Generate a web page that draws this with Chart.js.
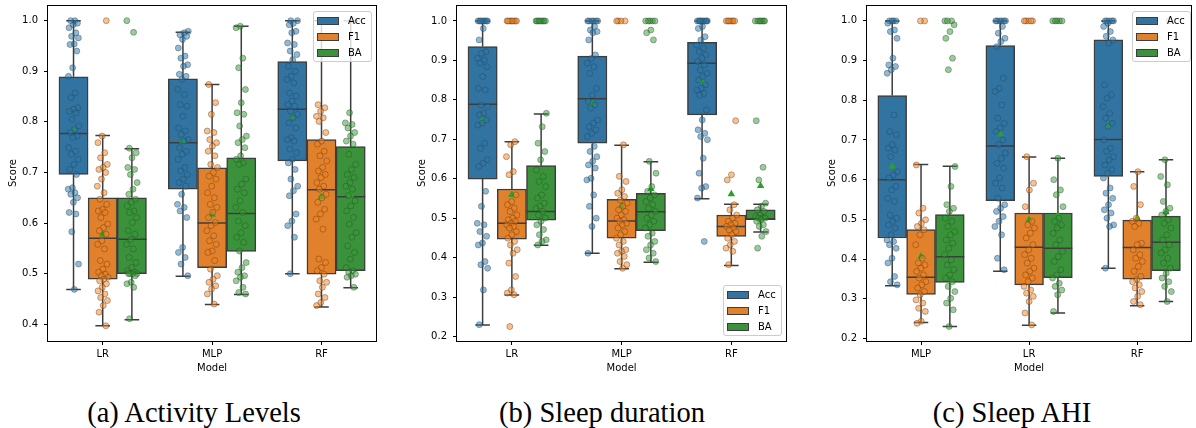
<!DOCTYPE html>
<html>
<head>
<meta charset="utf-8">
<script src="https://cdn.jsdelivr.net/npm/chart.js@4.4.1/dist/chart.umd.min.js"></script>
<style>
html,body{margin:0;padding:0;background:#fff;}
body{width:1196px;height:428px;overflow:hidden;position:relative;font-family:'DejaVu Sans',sans-serif;}
canvas{position:absolute;top:0;}
.legend{position:absolute;width:59px;height:51px;box-sizing:border-box;border:1px solid #cccccc;border-radius:3px;background:rgba(255,255,255,0.8);}
.legend .patch{position:absolute;left:3px;width:22px;height:8px;box-sizing:border-box;border:1px solid #3d3d3d;}
.legend .lab{position:absolute;left:34px;font-size:10px;line-height:12px;color:#000;white-space:nowrap;}
.caption{position:absolute;width:400px;text-align:center;font-family:'Liberation Serif',serif;font-size:28.5px;line-height:34px;top:396px;color:#000;white-space:nowrap;}
</style>
</head>
<body>
<canvas id="ca"></canvas>
<canvas id="cb"></canvas>
<canvas id="cc"></canvas>
<script>
// ---------- categories / labels ----------
const metrics = ['Acc', 'F1', 'BA'];
const catsA = ['LR', 'MLP', 'RF'];
const catsB = ['LR', 'MLP', 'RF'];
const catsC = ['MLP', 'LR', 'RF'];
const ticksA = [0.4, 0.5, 0.6, 0.7, 0.8, 0.9, 1.0];
const ticksB = [0.2, 0.3, 0.4, 0.5, 0.6, 0.7, 0.8, 0.9, 1.0];
const ticksC = [0.2, 0.3, 0.4, 0.5, 0.6, 0.7, 0.8, 0.9, 1.0];
const captions = ['(a) Activity Levels', '(b) Sleep duration', '(c) Sleep AHI'];

// ---------- box statistics: [whiskerLow, q1, median, q3, whiskerHigh, mean] per category ----------
const aAccBox = [[0.469, 0.696, 0.777, 0.889, 1.0, 0.785], [0.495, 0.667, 0.759, 0.885, 0.977, 0.762], [0.500, 0.723, 0.825, 0.919, 1.0, 0.810]];
const aF1Box  = [[0.397, 0.489, 0.570, 0.650, 0.773, 0.578], [0.439, 0.512, 0.600, 0.709, 0.874, 0.617], [0.434, 0.499, 0.666, 0.765, 1.0, 0.652]];
const aBABox  = [[0.409, 0.500, 0.568, 0.650, 0.747, 0.585], [0.459, 0.544, 0.619, 0.729, 0.989, 0.645], [0.472, 0.506, 0.652, 0.751, 1.0, 0.655]];

const bAccBox = [[0.229, 0.599, 0.789, 0.935, 1.0, 0.749], [0.411, 0.690, 0.803, 0.911, 1.0, 0.789], [0.549, 0.762, 0.893, 0.946, 1.0, 0.846]];
const bF1Box  = [[0.305, 0.447, 0.487, 0.574, 0.694, 0.559], [0.372, 0.449, 0.493, 0.548, 0.685, 0.530], [0.380, 0.454, 0.479, 0.508, 0.535, 0.561]];
const bBABox  = [[0.431, 0.495, 0.517, 0.633, 0.764, 0.600], [0.388, 0.468, 0.516, 0.563, 0.643, 0.574], [0.465, 0.496, 0.498, 0.521, 0.535, 0.582]];

const cAccBox = [[0.333, 0.453, 0.600, 0.812, 1.0, 0.633], [0.369, 0.547, 0.685, 0.938, 1.0, 0.715], [0.377, 0.608, 0.701, 0.952, 1.0, 0.735]];
const cF1Box  = [[0.240, 0.311, 0.354, 0.474, 0.638, 0.406], [0.233, 0.335, 0.430, 0.516, 0.657, 0.499], [0.282, 0.349, 0.429, 0.498, 0.620, 0.503]];
const cBABox  = [[0.230, 0.341, 0.406, 0.512, 0.634, 0.470], [0.264, 0.353, 0.427, 0.516, 0.654, 0.511], [0.293, 0.371, 0.442, 0.508, 0.650, 0.518]];

// ---------- individual scores (strip points) ----------
const aLRAcc = [1.0,1.0,0.995,0.992,0.986,0.976,0.969,0.966,0.954,0.953,0.940,0.907,0.890,0.857,0.848,0.828,0.825,0.821,0.818,0.805,0.792,0.785,0.779,0.772,0.769,0.749,0.742,0.736,0.726,0.716,0.706,0.696,0.670,0.667,0.660,0.657,0.650,0.641,0.621,0.618,0.583,0.519,0.469];
const aLRF1  = [1.0,0.772,0.759,0.739,0.729,0.716,0.710,0.706,0.700,0.687,0.673,0.660,0.647,0.637,0.627,0.624,0.621,0.611,0.598,0.591,0.585,0.578,0.565,0.558,0.549,0.526,0.519,0.509,0.503,0.499,0.496,0.493,0.489,0.486,0.480,0.473,0.466,0.460,0.453,0.447,0.437,0.424,0.397];
const aLRBA  = [1.0,0.977,0.748,0.739,0.729,0.710,0.706,0.696,0.680,0.667,0.657,0.647,0.641,0.634,0.624,0.621,0.611,0.601,0.585,0.578,0.568,0.558,0.549,0.532,0.522,0.512,0.506,0.503,0.500,0.500,0.500,0.500,0.496,0.483,0.480,0.473,0.411];
const aMLPAcc = [0.979,0.976,0.972,0.969,0.963,0.946,0.930,0.926,0.913,0.910,0.894,0.890,0.884,0.864,0.854,0.834,0.831,0.811,0.788,0.782,0.775,0.765,0.762,0.749,0.742,0.736,0.726,0.710,0.703,0.696,0.687,0.680,0.673,0.657,0.637,0.631,0.624,0.611,0.552,0.542,0.532,0.519,0.496];
const aMLPF1  = [0.874,0.838,0.815,0.782,0.779,0.765,0.759,0.752,0.742,0.733,0.716,0.710,0.700,0.693,0.687,0.673,0.660,0.650,0.637,0.631,0.621,0.611,0.601,0.595,0.585,0.575,0.565,0.558,0.545,0.542,0.526,0.509,0.496,0.489,0.483,0.476,0.470,0.460,0.440];
const aMLPBA  = [0.989,0.986,0.926,0.907,0.864,0.838,0.818,0.815,0.792,0.772,0.765,0.759,0.749,0.733,0.726,0.719,0.716,0.687,0.677,0.667,0.660,0.644,0.631,0.621,0.604,0.595,0.581,0.572,0.562,0.545,0.522,0.512,0.503,0.496,0.493,0.486,0.473,0.463,0.460];
const aRFAcc = [1.0,1.0,0.995,0.992,0.979,0.976,0.956,0.953,0.940,0.933,0.923,0.910,0.900,0.890,0.884,0.877,0.857,0.851,0.841,0.834,0.831,0.821,0.815,0.808,0.798,0.788,0.769,0.765,0.762,0.746,0.739,0.726,0.719,0.706,0.687,0.673,0.664,0.654,0.618,0.604,0.595,0.572,0.500];
const aRFF1  = [1.0,0.834,0.828,0.821,0.811,0.808,0.801,0.779,0.762,0.756,0.742,0.733,0.723,0.710,0.703,0.696,0.690,0.680,0.673,0.667,0.657,0.650,0.641,0.627,0.618,0.608,0.588,0.529,0.522,0.512,0.506,0.499,0.486,0.483,0.473,0.460,0.453,0.443,0.437];
const aRFBA  = [1.0,0.818,0.798,0.795,0.788,0.779,0.772,0.762,0.756,0.736,0.716,0.706,0.696,0.690,0.680,0.673,0.667,0.654,0.644,0.634,0.624,0.611,0.598,0.581,0.572,0.555,0.542,0.529,0.512,0.506,0.503,0.499,0.496,0.493,0.473];

const bLRAcc = [1.0,1.0,1.0,1.0,1.0,1.0,1.0,1.0,0.981,0.952,0.922,0.918,0.905,0.901,0.893,0.884,0.859,0.829,0.825,0.787,0.783,0.766,0.762,0.749,0.741,0.736,0.690,0.677,0.648,0.639,0.631,0.568,0.530,0.487,0.483,0.466,0.454,0.437,0.432,0.390,0.382,0.373,0.318,0.230];
const bLRF1  = [1.0,1.0,1.0,1.0,1.0,1.0,1.0,1.0,0.694,0.686,0.656,0.618,0.610,0.559,0.542,0.534,0.525,0.517,0.508,0.500,0.496,0.492,0.487,0.483,0.479,0.475,0.466,0.458,0.449,0.441,0.432,0.420,0.411,0.386,0.352,0.318,0.310,0.306,0.225];
const bLRBA  = [1.0,1.0,1.0,1.0,1.0,1.0,1.0,1.0,0.766,0.732,0.690,0.669,0.648,0.622,0.606,0.593,0.580,0.559,0.551,0.538,0.530,0.525,0.517,0.508,0.500,0.492,0.483,0.471,0.458,0.445,0.441,0.432];
const bMLPAcc = [1.0,1.0,1.0,1.0,1.0,1.0,0.986,0.977,0.973,0.970,0.952,0.914,0.905,0.893,0.884,0.867,0.829,0.812,0.796,0.787,0.779,0.749,0.741,0.732,0.724,0.715,0.707,0.682,0.669,0.656,0.644,0.635,0.627,0.601,0.597,0.559,0.530,0.500,0.479,0.411];
const bMLPF1  = [1.0,1.0,1.0,1.0,0.686,0.606,0.593,0.572,0.563,0.555,0.546,0.538,0.530,0.521,0.517,0.508,0.500,0.496,0.492,0.487,0.483,0.475,0.466,0.458,0.449,0.441,0.432,0.420,0.416,0.411,0.403,0.390,0.382,0.373];
const bMLPBA  = [1.0,1.0,1.0,1.0,1.0,0.977,0.970,0.952,0.644,0.614,0.580,0.568,0.559,0.551,0.542,0.534,0.525,0.517,0.508,0.500,0.492,0.483,0.475,0.462,0.454,0.441,0.432,0.420,0.411,0.399,0.390];
const bRFAcc = [1.0,1.0,1.0,1.0,1.0,1.0,1.0,1.0,1.0,1.0,0.986,0.981,0.960,0.952,0.939,0.931,0.922,0.914,0.905,0.897,0.889,0.876,0.867,0.859,0.850,0.838,0.829,0.825,0.816,0.812,0.774,0.749,0.724,0.715,0.707,0.699,0.652,0.614,0.580,0.576,0.551,0.441];
const bRFF1  = [1.0,1.0,1.0,1.0,1.0,1.0,1.0,0.747,0.610,0.597,0.534,0.521,0.508,0.500,0.492,0.487,0.483,0.479,0.475,0.470,0.466,0.458,0.449,0.441,0.432,0.424,0.416,0.382];
const bRFBA  = [1.0,1.0,1.0,1.0,1.0,1.0,1.0,0.747,0.629,0.597,0.538,0.530,0.521,0.517,0.508,0.504,0.500,0.500,0.500,0.496,0.492,0.483,0.479,0.466,0.454,0.424];

const cMLPAcc = [1.0,1.0,1.0,1.0,0.994,0.977,0.973,0.956,0.906,0.889,0.885,0.877,0.868,0.763,0.721,0.713,0.688,0.679,0.675,0.658,0.620,0.612,0.604,0.583,0.574,0.553,0.545,0.511,0.503,0.495,0.486,0.478,0.461,0.448,0.444,0.436,0.427,0.402,0.390,0.356,0.343,0.335];
const cMLPF1  = [1.0,1.0,0.637,0.528,0.516,0.499,0.490,0.482,0.474,0.461,0.436,0.402,0.390,0.385,0.377,0.369,0.360,0.352,0.343,0.335,0.327,0.318,0.310,0.297,0.289,0.276,0.268,0.243,0.238];
const cMLPBA  = [1.0,1.0,1.0,0.990,0.973,0.956,0.906,0.877,0.633,0.583,0.537,0.528,0.520,0.503,0.495,0.482,0.469,0.461,0.448,0.440,0.427,0.411,0.398,0.385,0.373,0.360,0.352,0.343,0.331,0.318,0.301,0.289,0.272,0.230];
const cLRAcc = [1.0,1.0,1.0,1.0,1.0,1.0,0.986,0.969,0.956,0.948,0.935,0.856,0.830,0.822,0.788,0.755,0.742,0.730,0.721,0.700,0.688,0.667,0.654,0.641,0.629,0.604,0.591,0.579,0.553,0.537,0.528,0.520,0.507,0.495,0.482,0.461,0.402,0.373];
const cLRF1  = [1.0,1.0,1.0,1.0,1.0,0.658,0.591,0.574,0.532,0.495,0.486,0.478,0.465,0.453,0.436,0.423,0.411,0.402,0.390,0.377,0.369,0.360,0.352,0.343,0.331,0.322,0.314,0.306,0.293,0.264,0.234];
const cLRBA  = [1.0,1.0,1.0,1.0,1.0,0.654,0.600,0.574,0.562,0.532,0.503,0.495,0.486,0.478,0.465,0.448,0.436,0.419,0.406,0.394,0.373,0.360,0.352,0.339,0.331,0.322,0.310,0.268];
const cRFAcc = [1.0,1.0,1.0,1.0,1.0,0.994,0.986,0.973,0.961,0.952,0.944,0.839,0.814,0.805,0.784,0.767,0.755,0.742,0.734,0.700,0.679,0.671,0.658,0.650,0.637,0.625,0.616,0.604,0.579,0.566,0.553,0.537,0.524,0.516,0.503,0.486,0.482,0.377];
const cRFF1  = [0.620,0.583,0.537,0.503,0.495,0.490,0.482,0.440,0.436,0.423,0.411,0.402,0.394,0.381,0.369,0.356,0.348,0.343,0.335,0.327,0.318,0.306,0.293,0.285];
const cRFBA  = [1.0,0.650,0.608,0.587,0.545,0.528,0.520,0.511,0.499,0.490,0.478,0.461,0.448,0.436,0.423,0.415,0.402,0.390,0.377,0.364,0.352,0.343,0.331,0.318,0.293];

// ---------- styling ----------
const boxColors = ['#3274a1', '#e1812c', '#3a923a'];
const pointColors = ['rgba(31,119,180,0.5)', 'rgba(255,127,14,0.5)', 'rgba(44,160,44,0.5)'];
const EDGE = '#3d3d3d';
const HUE = 0.8 / 3;
const JIT = 0.05;

Chart.defaults.font.family = "'DejaVu Sans', sans-serif";
Chart.defaults.font.size = 10;
Chart.defaults.color = '#000';

function jitter(i, ci, m) {
  const f = ((i + 1) * 0.6180339887 + ci * 0.37 + m * 0.21) % 1;
  return (f - 0.5) * 2 * JIT;
}

function boxPlugin(boxes) {
  return {
    id: 'boxExtras',
    afterDatasetDraw(chart, args) {
      if (args.index !== 0) return;
      const ctx = chart.ctx, ys = chart.scales.y;
      const P = v => ys.getPixelForValue(v);
      ctx.save();
      ctx.strokeStyle = EDGE; ctx.lineWidth = 1.5; ctx.lineCap = 'butt';
      boxes.forEach((stats, m) => {
        const meta = chart.getDatasetMeta(m);
        stats.forEach((s, ci) => {
          const el = meta.data[ci];
          const x = el.x, w = el.width;
          ctx.beginPath();
          ctx.moveTo(x, P(s[1])); ctx.lineTo(x, P(s[0]));
          ctx.moveTo(x, P(s[3])); ctx.lineTo(x, P(s[4]));
          ctx.moveTo(x - w / 4, P(s[0])); ctx.lineTo(x + w / 4, P(s[0]));
          ctx.moveTo(x - w / 4, P(s[4])); ctx.lineTo(x + w / 4, P(s[4]));
          ctx.moveTo(x - w / 2, P(s[2])); ctx.lineTo(x + w / 2, P(s[2]));
          ctx.stroke();
        });
      });
      ctx.restore();
    },
    afterDraw(chart) {
      const ctx = chart.ctx, a = chart.chartArea;
      ctx.save();
      ctx.strokeStyle = '#000'; ctx.lineWidth = 1;
      ctx.strokeRect(Math.round(a.left) - 0.5, Math.round(a.top) + 0.5, Math.round(a.right - a.left) + 1, Math.round(a.bottom - a.top));
      ctx.restore();
    }
  };
}

function makePanel(p) {
  const cv = document.getElementById(p.id);
  const width = p.cr - p.cl + 48 + p.padR;
  cv.width = width; cv.height = 376;
  cv.style.left = (p.cl - 48) + 'px';
  cv.style.width = width + 'px'; cv.style.height = '376px';

  const datasets = [];
  metrics.forEach((name, m) => {
    datasets.push({
      type: 'bar', label: name, xAxisID: 'xl', yAxisID: 'y', order: 3,
      data: p.boxes[m].map((s, ci) => ({ x: ci + (m - 1) * HUE, y: [s[1], s[3]] })),
      backgroundColor: boxColors[m], borderColor: EDGE, borderWidth: 1.5, borderSkipped: false,
      grouped: false, categoryPercentage: 1.0, barPercentage: 1.0
    });
  });
  const means = [];
  metrics.forEach((name, m) => p.boxes[m].forEach((s, ci) => means.push({ x: ci + (m - 1) * HUE, y: s[5] })));
  datasets.push({
    type: 'scatter', label: 'mean', xAxisID: 'xl', yAxisID: 'y', order: 2, data: means,
    pointStyle: 'triangle', pointRadius: 4.3, backgroundColor: '#2ca02c', borderColor: '#2ca02c', borderWidth: 0
  });
  metrics.forEach((name, m) => {
    const pts = [];
    p.cats.forEach((c, ci) => p.points[ci][m].forEach((v, i) => pts.push({ x: ci + (m - 1) * HUE + jitter(i, ci, m), y: v })));
    datasets.push({
      type: 'scatter', label: name + ' points', xAxisID: 'xl', yAxisID: 'y', order: 1, data: pts,
      pointStyle: 'circle', pointRadius: 3, backgroundColor: pointColors[m],
      borderColor: 'rgba(60,60,60,0.5)', borderWidth: 0.8
    });
  });

  const axisFont = { family: "'DejaVu Sans', sans-serif", size: 10 };
  new Chart(cv, {
    type: 'bar',
    data: { labels: p.cats, datasets },
    plugins: [boxPlugin(p.boxes)],
    options: {
      responsive: false, animation: false, devicePixelRatio: 1, events: [],
      layout: { padding: { left: 0, right: p.padR, top: 5, bottom: 0 } },
      plugins: { legend: { display: false }, tooltip: { enabled: false } },
      scales: {
        x: {
          type: 'category', offset: true,
          grid: { display: true, offset: false, drawOnChartArea: false, drawTicks: true, tickLength: 4, color: '#000', tickColor: '#000', lineWidth: 1 },
          border: { display: false },
          ticks: { color: '#000', font: axisFont, padding: 3, maxRotation: 0, autoSkip: false },
          title: { display: true, text: 'Model', color: '#000', font: axisFont, padding: { top: 0, bottom: 1.5 } },
          afterFit: s => { s.height = 35; s.paddingLeft = 0; s.paddingRight = 0; }
        },
        xl: {
          type: 'linear', axis: 'x', position: 'bottom', display: false, offset: false,
          grid: { offset: false }, bounds: 'data', grace: 0, min: -0.5, max: 2.5
        },
        y: {
          type: 'linear', min: p.yMin, max: p.yMax,
          afterBuildTicks: s => { s.ticks = p.ticks.map(v => ({ value: v })); },
          grid: { display: true, drawOnChartArea: false, drawTicks: true, tickLength: 4, color: '#000', tickColor: '#000', lineWidth: 1 },
          border: { display: false },
          ticks: { color: '#000', font: axisFont, padding: 6, callback: v => Number(v).toFixed(1) },
          title: { display: true, text: 'Score', color: '#000', font: axisFont, padding: { top: 7, bottom: 0 } },
          afterFit: s => { s.width = 48; s.paddingTop = 0; s.paddingBottom = 0; }
        }
      }
    }
  });

  // legend (HTML, real text)
  const lg = document.createElement('div');
  lg.className = 'legend';
  lg.style.left = p.legLeft + 'px'; lg.style.top = p.legTop + 'px';
  metrics.forEach((name, m) => {
    const cy = 8.5 + m * 16;
    const patch = document.createElement('div');
    patch.className = 'patch';
    patch.style.top = (cy - 4) + 'px';
    patch.style.background = boxColors[m];
    const lab = document.createElement('div');
    lab.className = 'lab';
    lab.style.top = (cy - 6) + 'px';
    lab.textContent = name;
    lg.appendChild(patch); lg.appendChild(lab);
  });
  document.body.appendChild(lg);

  const cap = document.createElement('div');
  cap.className = 'caption';
  cap.style.left = (p.capX - 200) + 'px';
  cap.textContent = p.caption;
  document.body.appendChild(cap);
}

makePanel({
  id: 'ca', cats: catsA, ticks: ticksA, yMin: 0.367, yMax: 1.031,
  boxes: [aAccBox, aF1Box, aBABox],
  points: [[aLRAcc, aLRF1, aLRBA], [aMLPAcc, aMLPF1, aMLPBA], [aRFAcc, aRFF1, aRFBA]],
  cl: 48, cr: 377, padR: 4, legLeft: 313, legTop: 11, caption: captions[0], capX: 194
});
makePanel({
  id: 'cb', cats: catsB, ticks: ticksB, yMin: 0.1885, yMax: 1.0405,
  boxes: [bAccBox, bF1Box, bBABox],
  points: [[bLRAcc, bLRF1, bLRBA], [bMLPAcc, bMLPF1, bMLPBA], [bRFAcc, bRFF1, bRFBA]],
  cl: 457, cr: 787, padR: 4, legLeft: 723, legTop: 285, caption: captions[1], capX: 602
});
makePanel({
  id: 'cc', cats: catsC, ticks: ticksC, yMin: 0.1935, yMax: 1.040,
  boxes: [cAccBox, cF1Box, cBABox],
  points: [[cMLPAcc, cMLPF1, cMLPBA], [cLRAcc, cLRF1, cLRBA], [cRFAcc, cRFF1, cRFBA]],
  cl: 867, cr: 1195, padR: 1, legLeft: 1132, legTop: 11, caption: captions[2], capX: 1012
});
</script>
</body>
</html>
